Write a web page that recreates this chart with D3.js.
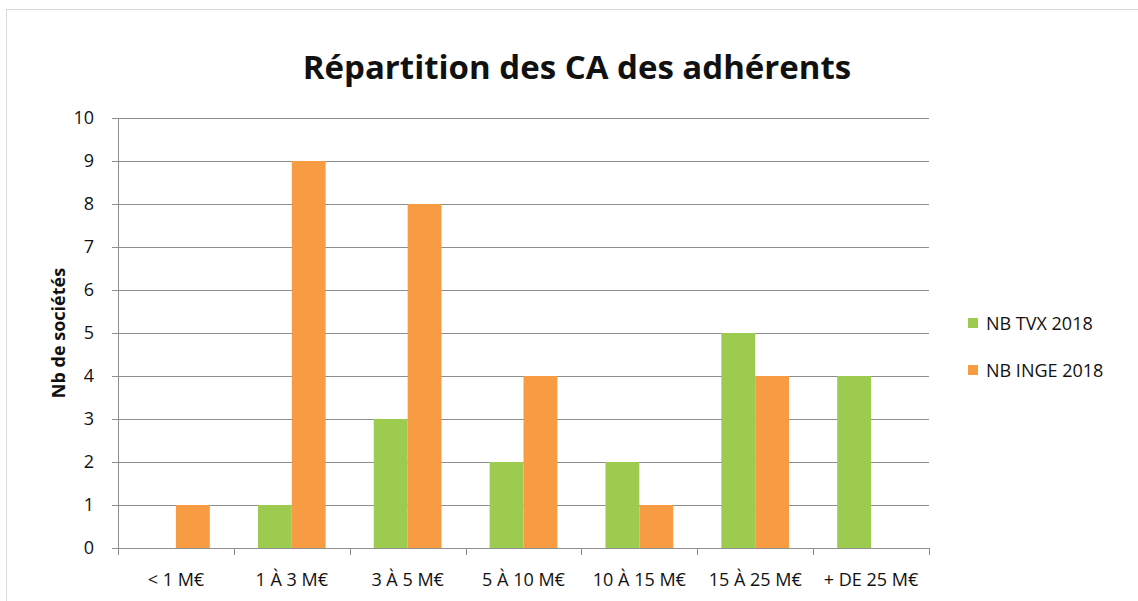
<!DOCTYPE html>
<html>
<head>
<meta charset="utf-8">
<script src="https://cdn.jsdelivr.net/npm/d3@7"></script>
<style>
  body { margin: 0; background: #fff; }
  svg { display: block; }
</style>
</head>
<body>
<svg id="chart"></svg>
<script>
// data
const categories = ["< 1 M€", "1 À 3 M€", "3 À 5 M€", "5 À 10 M€", "10 À 15 M€", "15 À 25 M€", "+ DE 25 M€"];
const seriesNames = ["NB TVX 2018", "NB INGE 2018"];
const tvx = [0, 1, 3, 2, 2, 5, 4];
const inge = [1, 9, 8, 4, 1, 4, 0];
const yTicks = [0, 1, 2, 3, 4, 5, 6, 7, 8, 9, 10];

const colors = ["#9dcb50", "#f79c42"];
const width = 1138, height = 601;
const margin = { top: 118, right: 209, bottom: 53, left: 118 };
const visWidth = width - margin.left - margin.right;
const visHeight = height - margin.top - margin.bottom;
const font = "'Open Sans', 'DejaVu Sans', sans-serif";

const svg = d3.select("#chart").attr("width", width).attr("height", height);

// outer frame
svg.append("rect")
  .attr("x", 6.5).attr("y", 9.5)
  .attr("width", width + 20).attr("height", height + 20)
  .attr("fill", "white")
  .attr("stroke", "#d9d9d9");

const g = svg.append("g").attr("transform", `translate(${margin.left},${margin.top})`);

const x = d3.scaleBand().domain(categories).range([0, visWidth]).paddingInner(0).paddingOuter(0);
const x1 = d3.scaleBand().domain(seriesNames).range([0, x.bandwidth()]).paddingInner(0).paddingOuter(0.71);
const y = d3.scaleLinear().domain([0, 10]).range([visHeight, 0]);

// grid
g.append("g")
  .selectAll("line")
  .data(yTicks.filter(d => d > 0))
  .join("line")
  .attr("x1", -6).attr("x2", visWidth)
  .attr("y1", d => Math.round(y(d)) + 0.5)
  .attr("y2", d => Math.round(y(d)) + 0.5)
  .attr("stroke", "#8e8e8e")
  .attr("stroke-width", 1);

// y axis
g.append("g")
  .call(d3.axisLeft(y).tickValues(yTicks).tickSize(6).tickPadding(18))
  .call(g => g.select(".domain").attr("stroke", "#8e8e8e"))
  .call(g => g.selectAll(".tick line").attr("stroke", "#8e8e8e"))
  .call(g => g.selectAll("text")
    .attr("font-family", font).attr("font-size", 18).attr("fill", "#111"));

// bars
const data = categories.map((c, i) => ({ cat: c, values: [tvx[i], inge[i]] }));
g.append("g")
  .selectAll("g")
  .data(data)
  .join("g")
  .attr("transform", d => `translate(${x(d.cat)},0)`)
  .selectAll("rect")
  .data(d => d.values.map((v, j) => ({ name: seriesNames[j], value: v, idx: j })))
  .join("rect")
  .attr("x", d => x1(d.name))
  .attr("width", x1.bandwidth())
  .attr("y", d => y(d.value))
  .attr("height", d => y(0) - y(d.value))
  .attr("fill", d => colors[d.idx]);

// x axis
const boundaries = categories.map(c => x(c)).concat([visWidth]);
g.append("g")
  .attr("transform", `translate(0,${visHeight})`)
  .call(g => g.append("line")
    .attr("x1", 0).attr("x2", visWidth)
    .attr("y1", 0.5).attr("y2", 0.5)
    .attr("stroke", "#8e8e8e"))
  .call(g => g.selectAll(".bt")
    .data(boundaries)
    .join("line")
    .attr("class", "bt")
    .attr("x1", d => Math.round(d) + 0.5).attr("x2", d => Math.round(d) + 0.5)
    .attr("y1", 0).attr("y2", 7)
    .attr("stroke", "#8e8e8e"))
  .call(g => g.selectAll("text")
    .data(categories)
    .join("text")
    .attr("x", d => x(d) + x.bandwidth() / 2)
    .attr("y", 38)
    .attr("text-anchor", "middle")
    .attr("font-family", font)
    .attr("font-size", 18)
    .attr("fill", "#111")
    .text(d => d));

// title
svg.append("text")
  .attr("x", 577).attr("y", 79)
  .attr("text-anchor", "middle")
  .attr("font-family", font)
  .attr("font-weight", "bold")
  .attr("font-size", 33)
  .attr("fill", "#111")
  .text("Répartition des CA des adhérents");

// y label
svg.append("text")
  .attr("transform", `translate(65,${margin.top + visHeight / 2}) rotate(-90)`)
  .attr("text-anchor", "middle")
  .attr("font-family", font)
  .attr("font-weight", "bold")
  .attr("font-size", 18)
  .attr("fill", "#111")
  .text("Nb de sociétés");

// legend
const legend = svg.append("g").attr("transform", "translate(968,318)");
const items = legend.selectAll("g")
  .data(seriesNames)
  .join("g")
  .attr("transform", (d, i) => `translate(0,${i * 47})`);
items.append("rect")
  .attr("width", 10).attr("height", 10)
  .attr("fill", (d, i) => colors[i]);
items.append("text")
  .attr("x", 18).attr("y", 12)
  .attr("font-family", font)
  .attr("font-size", 18)
  .attr("fill", "#111")
  .text(d => d);
</script>
</body>
</html>
